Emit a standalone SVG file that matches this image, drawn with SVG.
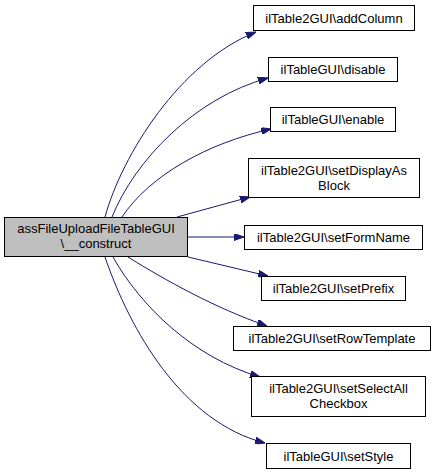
<svg xmlns="http://www.w3.org/2000/svg" width="436" height="475" viewBox="0 0 436 475">
<style>
.n rect{fill:#ffffff;stroke:#000000;stroke-width:1}
.m rect{fill:#bfbfbf;stroke:#000000;stroke-width:1}
text{font-family:"Liberation Sans",Arial,sans-serif;font-size:13px;fill:#000000;text-anchor:middle}
.e path{fill:none;stroke:#191970;stroke-width:1;marker-end:url(#ah)}
</style>
<defs>
<marker id="ah" viewBox="0 0 10 7" refX="10" refY="3.5" markerWidth="10" markerHeight="7" markerUnits="userSpaceOnUse" orient="auto">
<polygon points="0,0 10,3.5 0,7" fill="#191970" stroke="#191970"/>
</marker>
</defs>
<rect width="436" height="475" fill="#ffffff"/>
<g id="edges" class="e">
<path d="M105,217 C122,155 180,62 256,32"/>
<path d="M112,217 C135,160 195,98 268,78"/>
<path d="M122,217 C150,175 208,143 271,129"/>
<path d="M177,217 L250,197"/>
<path d="M188,237 L244,237"/>
<path d="M188,257 L268,276"/>
<path d="M128,257 C165,280 215,308 267,326"/>
<path d="M113,257 C140,305 192,357 260,377"/>
<path d="M105,257 C130,330 182,422 265,443"/>
</g>
<g id="main" class="m">
<rect x="4.5" y="217.5" width="183" height="39"/>
<text x="96" y="232.5">assFileUploadFileTableGUI</text>
<text x="96" y="247.5">\__construct</text>
</g>
<g id="addColumn" class="n">
<rect x="253.5" y="5.5" width="161" height="25"/>
<text x="334" y="22.5">ilTable2GUI\addColumn</text>
</g>
<g id="disable" class="n">
<rect x="268.5" y="57.5" width="129" height="24"/>
<text x="333" y="74">ilTableGUI\disable</text>
</g>
<g id="enable" class="n">
<rect x="270.5" y="107.5" width="125" height="24"/>
<text x="333" y="124">ilTableGUI\enable</text>
</g>
<g id="setDisplayAsBlock" class="n">
<rect x="248.5" y="158.5" width="171" height="39"/>
<text x="334" y="174.5">ilTable2GUI\setDisplayAs</text>
<text x="334" y="189.5">Block</text>
</g>
<g id="setFormName" class="n">
<rect x="244.5" y="225.5" width="178" height="24"/>
<text x="333.5" y="242">ilTable2GUI\setFormName</text>
</g>
<g id="setPrefix" class="n">
<rect x="261.5" y="276.5" width="144" height="24"/>
<text x="333.5" y="293">ilTable2GUI\setPrefix</text>
</g>
<g id="setRowTemplate" class="n">
<rect x="233.5" y="326.5" width="197" height="24"/>
<text x="332" y="343">ilTable2GUI\setRowTemplate</text>
</g>
<g id="setSelectAllCheckbox" class="n">
<rect x="251.5" y="376.5" width="174" height="40"/>
<text x="338.5" y="393">ilTable2GUI\setSelectAll</text>
<text x="338.5" y="408">Checkbox</text>
</g>
<g id="setStyle" class="n">
<rect x="266.5" y="443.5" width="144" height="25"/>
<text x="338.5" y="460.5">ilTableGUI\setStyle</text>
</g>
</svg>
